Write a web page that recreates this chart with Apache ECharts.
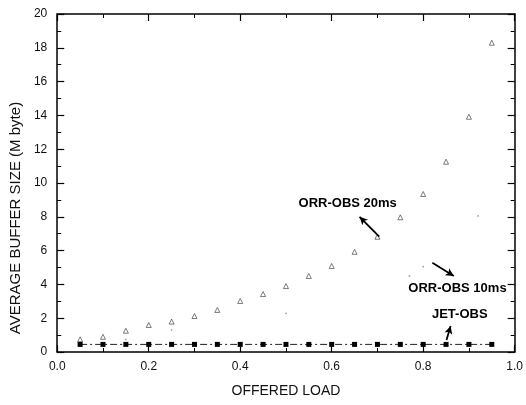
<!DOCTYPE html>
<html>
<head>
<meta charset="utf-8">
<script src="https://cdn.jsdelivr.net/npm/echarts@6/dist/echarts.min.js"></script>
<style>html,body{margin:0;padding:0;background:#fff}#c{width:526px;height:405px}</style>
</head>
<body>
<div id="c"></div>
<script>
const loads = [0.05,0.10,0.15,0.20,0.25,0.30,0.35,0.40,0.45,0.50,0.55,0.60,0.65,0.70,0.75,0.80,0.85,0.90,0.95];
const orr20 = [0.75,0.9,1.26,1.6,1.8,2.13,2.49,3.02,3.43,3.9,4.5,5.09,5.93,6.82,7.97,9.35,11.26,13.92,18.3];
const orr10Loads = [0.15,0.25,0.50,0.77,0.80,0.92];
const orr10 = [0.75,1.3,2.29,4.5,5.05,8.05];
const jet = [0.45,0.45,0.45,0.45,0.45,0.45,0.45,0.45,0.45,0.45,0.45,0.45,0.45,0.45,0.45,0.45,0.45,0.45,0.45];
const xTicks = ['0.0','0.2','0.4','0.6','0.8','1.0'];
const annotations = [
  {text:'ORR-OBS 20ms', pos:[0.635,8.8], from:[0.704,6.82], to:[0.661,8.0]},
  {text:'ORR-OBS 10ms', pos:[0.875,3.77], from:[0.820,5.28], to:[0.867,4.5]},
  {text:'JET-OBS', pos:[0.88,2.25], from:[0.851,0.71], to:[0.86,1.54]}
];

const font = 'Liberation Sans, Arial, sans-serif';
const chart = echarts.init(document.getElementById('c'));
const axisLine = {show:true, onZero:false, lineStyle:{color:'#000', width:1.5}};
const tick = {inside:true, length:7, lineStyle:{color:'#000', width:1.2}};
const minor = {show:true, splitNumber:2, length:4, lineStyle:{color:'#000'}};
chart.setOption({
  animation:false,
  backgroundColor:'#fff',
  grid:{left:56, right:10, top:14, bottom:53},
  xAxis:[{
    type:'value', min:0, max:1, interval:0.2,
    name:'OFFERED LOAD', nameLocation:'middle', nameGap:32,
    nameTextStyle:{fontFamily:font, fontSize:14, color:'#111'},
    axisLine, splitLine:{show:false}, axisTick:tick, minorTick:minor,
    axisLabel:{fontFamily:font, fontSize:12, color:'#111', margin:9,
      formatter:v=>xTicks[Math.round(v/0.2)]}
  },{
    type:'value', min:0, max:1, interval:0.2, position:'top',
    axisLine, splitLine:{show:false}, axisLabel:{show:false},
    axisTick:tick, minorTick:minor
  }],
  yAxis:[{
    type:'value', min:0, max:20, interval:2,
    name:'AVERAGE BUFFER SIZE (M byte)', nameLocation:'middle', nameGap:21,
    nameTextStyle:{fontFamily:font, fontSize:15, color:'#111', padding:[0,0,0,-70]},
    axisLine, splitLine:{show:false}, axisTick:tick, minorTick:minor,
    axisLabel:{fontFamily:font, fontSize:12, color:'#111', margin:10}
  },{
    type:'value', min:0, max:20, interval:2, position:'right',
    axisLine, splitLine:{show:false}, axisLabel:{show:false},
    axisTick:tick, minorTick:minor
  }],
  series:[
    {
      type:'line', name:'JET-OBS',
      data: loads.map((x,i)=>[x,jet[i]]),
      symbol:'rect', symbolSize:5,
      itemStyle:{color:'#000'},
      lineStyle:{color:'#222', width:1, type:[7,3,2,3]},
      z:3
    },
    {
      type:'scatter', name:'ORR-OBS 20ms',
      data: loads.map((x,i)=>[x,orr20[i]]),
      symbol:'triangle', symbolSize:5,
      itemStyle:{color:'#fff', borderColor:'#333', borderWidth:0.8}
    },
    {
      type:'scatter', name:'ORR-OBS 10ms',
      data: orr10Loads.map((x,i)=>[x,orr10[i]]),
      symbol:'circle', symbolSize:1.8,
      itemStyle:{color:'#888'}
    },
    {
      type:'scatter', data:[], silent:true,
      markLine:{
        silent:true, symbol:['none','arrow'], symbolSize:[6,8],
        label:{show:false},
        lineStyle:{color:'#000', width:1.8, type:'solid'},
        data: annotations.map(a=>[{coord:a.from},{coord:a.to}])
      },
      markPoint:{
        symbol:'circle', symbolSize:0,
        label:{show:true, position:'inside', fontFamily:font, fontSize:13, fontWeight:'bold', color:'#000',
          formatter:p=>p.name},
        data: annotations.map(a=>({name:a.text, coord:a.pos}))
      }
    }
  ]
});
</script>
</body>
</html>
